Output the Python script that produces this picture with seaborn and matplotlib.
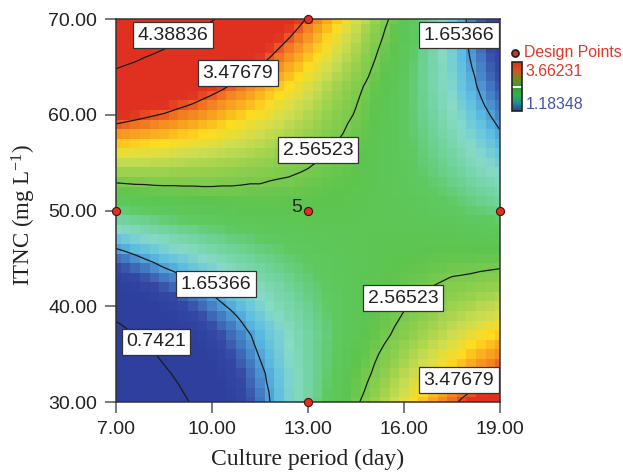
#!/usr/bin/env python3

import numpy as np
import matplotlib
matplotlib.use('Agg')
import matplotlib.pyplot as plt
import seaborn as sns
from matplotlib.colors import LinearSegmentedColormap
from matplotlib.colorbar import ColorbarBase

# Axis values
culture_ticks = ['7.00', '10.00', '13.00', '16.00', '19.00']
itnc_ticks = ['70.00', '60.00', '50.00', '40.00', '30.00']
culture_range = [7.0, 19.0]
itnc_range = [70.0, 30.0]

# Design points
design_culture = [7, 13, 13, 13, 19]
design_itnc = [50, 70, 50, 30, 50]

contour_levels = [0.7421, 1.65366, 2.56523, 3.47679, 4.38836]
contour_names = ['4.38836', '3.47679', '2.56523', '1.65366', '1.65366', '0.7421', '2.56523', '3.47679']
name_x = [173, 238, 318, 459, 216, 156, 403, 459]
name_y = [35, 73, 150, 35, 284, 342, 298, 380]

range_low = 1.18348
range_high = 3.66231

# Response, rows from ITNC 70 down to 30, columns from day 7 to 19
response = [
    [5.27,5.19,5.11,5.03,4.94,4.85,4.77,4.68,4.59,4.50,4.42,4.32,4.22,4.14,4.04,3.94,3.85,3.75,3.65,3.55,3.45,3.35,3.25,3.15,3.04,2.93,2.83,2.72,2.61,2.50,2.40,2.28,2.16,2.06,1.94,1.82,1.71,1.59,1.47,1.35,1.23],
    [5.10,5.02,4.94,4.86,4.78,4.71,4.62,4.54,4.45,4.37,4.28,4.19,4.11,4.02,3.93,3.84,3.75,3.66,3.56,3.47,3.37,3.27,3.18,3.08,2.98,2.88,2.77,2.67,2.57,2.46,2.36,2.26,2.15,2.04,1.93,1.83,1.71,1.60,1.49,1.37,1.26],
    [4.92,4.86,4.78,4.71,4.64,4.56,4.49,4.40,4.33,4.25,4.16,4.09,4.00,3.91,3.83,3.75,3.66,3.57,3.48,3.39,3.30,3.21,3.12,3.02,2.93,2.84,2.73,2.64,2.54,2.45,2.34,2.24,2.14,2.04,1.94,1.83,1.72,1.61,1.50,1.40,1.29],
    [4.75,4.68,4.62,4.54,4.48,4.41,4.34,4.26,4.19,4.11,4.04,3.96,3.88,3.80,3.73,3.65,3.56,3.48,3.39,3.31,3.23,3.14,3.05,2.96,2.88,2.79,2.70,2.60,2.51,2.41,2.32,2.22,2.12,2.03,1.93,1.83,1.73,1.62,1.52,1.41,1.31],
    [4.59,4.52,4.46,4.39,4.33,4.27,4.20,4.13,4.07,3.99,3.92,3.85,3.77,3.71,3.63,3.56,3.48,3.40,3.32,3.24,3.16,3.08,3.00,2.91,2.83,2.75,2.66,2.57,2.48,2.39,2.30,2.21,2.12,2.02,1.93,1.84,1.73,1.64,1.55,1.44,1.35],
    [4.42,4.36,4.31,4.25,4.18,4.12,4.07,4.00,3.94,3.87,3.81,3.74,3.68,3.61,3.54,3.47,3.39,3.32,3.24,3.17,3.10,3.02,2.94,2.86,2.78,2.71,2.62,2.54,2.46,2.37,2.29,2.20,2.11,2.03,1.94,1.84,1.75,1.66,1.57,1.47,1.38],
    [4.26,4.20,4.15,4.10,4.05,3.99,3.93,3.87,3.81,3.75,3.70,3.63,3.57,3.51,3.44,3.38,3.31,3.24,3.17,3.10,3.03,2.96,2.89,2.81,2.74,2.67,2.59,2.51,2.43,2.36,2.28,2.19,2.11,2.02,1.94,1.86,1.77,1.69,1.59,1.50,1.42],
    [4.09,4.04,3.99,3.95,3.90,3.85,3.79,3.74,3.68,3.63,3.57,3.52,3.46,3.40,3.34,3.28,3.21,3.15,3.09,3.02,2.96,2.89,2.82,2.75,2.69,2.62,2.55,2.47,2.40,2.33,2.25,2.18,2.10,2.02,1.94,1.87,1.78,1.70,1.62,1.54,1.45],
    [3.93,3.89,3.85,3.80,3.76,3.72,3.67,3.62,3.57,3.52,3.47,3.42,3.36,3.31,3.26,3.20,3.14,3.09,3.03,2.97,2.91,2.85,2.78,2.72,2.66,2.59,2.53,2.46,2.39,2.32,2.25,2.18,2.11,2.03,1.96,1.89,1.81,1.73,1.65,1.57,1.49],
    [3.78,3.74,3.70,3.66,3.62,3.59,3.54,3.50,3.46,3.41,3.37,3.32,3.27,3.23,3.18,3.13,3.07,3.02,2.97,2.91,2.86,2.80,2.74,2.68,2.63,2.57,2.50,2.44,2.38,2.31,2.25,2.18,2.11,2.04,1.97,1.91,1.83,1.76,1.68,1.61,1.54],
    [3.62,3.59,3.56,3.52,3.49,3.46,3.42,3.38,3.35,3.31,3.27,3.23,3.18,3.14,3.10,3.06,3.01,2.96,2.91,2.86,2.81,2.76,2.70,2.65,2.60,2.55,2.49,2.43,2.37,2.31,2.25,2.19,2.12,2.06,1.99,1.93,1.86,1.79,1.72,1.65,1.58],
    [3.47,3.44,3.41,3.39,3.36,3.33,3.30,3.27,3.24,3.20,3.17,3.13,3.09,3.06,3.02,2.98,2.94,2.90,2.85,2.81,2.77,2.72,2.67,2.62,2.57,2.52,2.47,2.41,2.36,2.31,2.25,2.19,2.13,2.07,2.01,1.95,1.89,1.82,1.76,1.69,1.63],
    [3.31,3.29,3.27,3.25,3.23,3.21,3.18,3.15,3.13,3.10,3.07,3.04,3.01,2.98,2.94,2.91,2.87,2.84,2.80,2.76,2.72,2.68,2.63,2.59,2.55,2.50,2.45,2.40,2.35,2.30,2.25,2.20,2.14,2.09,2.03,1.98,1.92,1.86,1.80,1.74,1.67],
    [3.16,3.15,3.13,3.12,3.10,3.09,3.06,3.04,3.02,3.00,2.98,2.95,2.92,2.90,2.87,2.84,2.81,2.78,2.74,2.71,2.68,2.64,2.60,2.56,2.52,2.48,2.44,2.39,2.35,2.30,2.26,2.21,2.16,2.11,2.06,2.01,1.95,1.89,1.84,1.78,1.72],
    [3.02,3.01,3.00,2.99,2.98,2.97,2.95,2.93,2.92,2.90,2.88,2.86,2.84,2.82,2.80,2.77,2.75,2.72,2.69,2.66,2.63,2.60,2.56,2.53,2.50,2.46,2.42,2.38,2.34,2.30,2.26,2.22,2.17,2.13,2.08,2.04,1.98,1.93,1.88,1.83,1.78],
    [2.87,2.87,2.86,2.86,2.85,2.85,2.83,2.82,2.81,2.80,2.79,2.77,2.76,2.74,2.72,2.71,2.69,2.66,2.64,2.62,2.59,2.56,2.53,2.51,2.48,2.45,2.41,2.38,2.34,2.31,2.27,2.23,2.19,2.15,2.11,2.07,2.02,1.97,1.92,1.88,1.83],
    [2.73,2.73,2.73,2.73,2.73,2.73,2.72,2.71,2.71,2.70,2.70,2.69,2.68,2.66,2.65,2.64,2.62,2.60,2.59,2.57,2.55,2.53,2.50,2.48,2.45,2.43,2.40,2.37,2.34,2.31,2.28,2.24,2.21,2.17,2.13,2.10,2.06,2.01,1.97,1.93,1.89],
    [2.58,2.59,2.60,2.60,2.61,2.61,2.61,2.61,2.61,2.61,2.61,2.60,2.60,2.59,2.58,2.58,2.56,2.55,2.54,2.52,2.51,2.49,2.47,2.45,2.44,2.42,2.39,2.37,2.34,2.32,2.29,2.26,2.23,2.20,2.17,2.13,2.10,2.06,2.02,1.98,1.94],
    [2.45,2.46,2.47,2.48,2.49,2.50,2.50,2.51,2.51,2.52,2.52,2.52,2.52,2.52,2.51,2.51,2.50,2.49,2.49,2.48,2.47,2.46,2.44,2.43,2.42,2.40,2.38,2.36,2.34,2.32,2.30,2.27,2.25,2.22,2.20,2.17,2.14,2.10,2.07,2.04,2.01],
    [2.31,2.32,2.34,2.35,2.37,2.39,2.39,2.40,2.41,2.42,2.43,2.44,2.44,2.45,2.45,2.45,2.45,2.45,2.44,2.44,2.44,2.43,2.42,2.41,2.40,2.39,2.37,2.36,2.34,2.33,2.31,2.29,2.27,2.25,2.23,2.21,2.18,2.15,2.12,2.09,2.07],
    [2.17,2.19,2.21,2.23,2.25,2.27,2.29,2.30,2.32,2.33,2.35,2.36,2.36,2.37,2.38,2.39,2.39,2.40,2.40,2.40,2.40,2.40,2.39,2.39,2.38,2.38,2.37,2.36,2.35,2.34,2.33,2.31,2.29,2.28,2.26,2.24,2.22,2.20,2.18,2.15,2.13],
    [2.04,2.06,2.09,2.11,2.14,2.17,2.19,2.21,2.22,2.24,2.26,2.28,2.29,2.30,2.32,2.33,2.34,2.35,2.35,2.36,2.37,2.37,2.37,2.37,2.37,2.37,2.36,2.36,2.35,2.35,2.34,2.33,2.32,2.31,2.30,2.29,2.27,2.25,2.23,2.22,2.20],
    [1.91,1.94,1.97,2.00,2.03,2.06,2.08,2.11,2.13,2.16,2.18,2.20,2.22,2.24,2.26,2.27,2.29,2.30,2.31,2.32,2.33,2.34,2.34,2.35,2.36,2.36,2.36,2.36,2.36,2.36,2.36,2.35,2.35,2.34,2.34,2.33,2.32,2.30,2.29,2.28,2.27],
    [1.77,1.81,1.85,1.88,1.92,1.95,1.98,2.01,2.04,2.07,2.10,2.12,2.15,2.17,2.19,2.22,2.23,2.25,2.27,2.28,2.30,2.31,2.32,2.33,2.34,2.36,2.36,2.37,2.37,2.38,2.38,2.38,2.38,2.38,2.37,2.37,2.36,2.36,2.35,2.34,2.33],
    [1.65,1.69,1.73,1.77,1.81,1.85,1.88,1.92,1.95,1.99,2.02,2.05,2.08,2.10,2.13,2.16,2.18,2.20,2.23,2.25,2.27,2.29,2.30,2.32,2.33,2.35,2.36,2.37,2.38,2.39,2.40,2.40,2.41,2.41,2.42,2.42,2.42,2.41,2.41,2.41,2.41],
    [1.52,1.56,1.61,1.66,1.70,1.75,1.78,1.82,1.86,1.90,1.94,1.97,2.01,2.04,2.07,2.11,2.13,2.16,2.19,2.21,2.24,2.26,2.28,2.30,2.32,2.35,2.36,2.38,2.39,2.41,2.42,2.43,2.44,2.45,2.46,2.47,2.47,2.47,2.48,2.48,2.48],
    [1.40,1.45,1.50,1.55,1.60,1.65,1.69,1.73,1.78,1.82,1.86,1.90,1.94,1.98,2.02,2.05,2.09,2.12,2.15,2.18,2.21,2.24,2.27,2.29,2.32,2.34,2.36,2.38,2.40,2.42,2.44,2.46,2.47,2.49,2.50,2.52,2.52,2.53,2.54,2.55,2.56],
    [1.27,1.33,1.38,1.44,1.49,1.55,1.59,1.64,1.69,1.74,1.79,1.83,1.87,1.92,1.96,2.00,2.04,2.07,2.11,2.15,2.19,2.22,2.25,2.28,2.31,2.34,2.37,2.39,2.42,2.44,2.47,2.49,2.51,2.53,2.55,2.57,2.58,2.59,2.61,2.62,2.63],
    [1.15,1.21,1.27,1.33,1.39,1.45,1.50,1.55,1.61,1.66,1.71,1.76,1.81,1.86,1.90,1.95,1.99,2.03,2.08,2.12,2.16,2.20,2.23,2.27,2.30,2.34,2.37,2.40,2.43,2.46,2.49,2.52,2.54,2.57,2.59,2.62,2.64,2.66,2.68,2.70,2.71],
    [1.04,1.10,1.16,1.23,1.29,1.35,1.41,1.47,1.53,1.58,1.64,1.69,1.75,1.80,1.85,1.90,1.95,2.00,2.04,2.09,2.14,2.18,2.22,2.26,2.30,2.34,2.38,2.41,2.45,2.49,2.52,2.55,2.58,2.61,2.64,2.67,2.70,2.72,2.75,2.77,2.80],
    [0.92,0.99,1.06,1.12,1.19,1.26,1.32,1.38,1.45,1.51,1.57,1.63,1.68,1.74,1.80,1.86,1.91,1.96,2.01,2.06,2.11,2.16,2.21,2.25,2.30,2.35,2.39,2.43,2.47,2.51,2.55,2.59,2.62,2.66,2.69,2.73,2.76,2.79,2.82,2.85,2.88],
    [0.81,0.88,0.95,1.02,1.09,1.17,1.23,1.30,1.37,1.43,1.50,1.56,1.62,1.68,1.75,1.81,1.87,1.92,1.98,2.03,2.09,2.14,2.20,2.25,2.30,2.35,2.39,2.44,2.49,2.53,2.58,2.62,2.66,2.70,2.75,2.79,2.82,2.86,2.89,2.93,2.97],
    [0.69,0.77,0.85,0.92,1.00,1.08,1.15,1.22,1.29,1.36,1.43,1.50,1.56,1.63,1.70,1.76,1.82,1.88,1.95,2.01,2.07,2.13,2.18,2.24,2.30,2.35,2.40,2.46,2.51,2.56,2.61,2.66,2.71,2.75,2.80,2.85,2.89,2.93,2.97,3.01,3.05],
    [0.58,0.66,0.75,0.83,0.91,0.99,1.06,1.14,1.21,1.29,1.36,1.43,1.51,1.58,1.65,1.72,1.79,1.85,1.92,1.98,2.05,2.11,2.17,2.24,2.30,2.36,2.42,2.47,2.53,2.59,2.64,2.70,2.75,2.80,2.85,2.91,2.95,3.00,3.05,3.10,3.14],
    [0.48,0.56,0.65,0.74,0.83,0.91,0.99,1.07,1.15,1.23,1.32,1.40,1.47,1.55,1.62,1.70,1.77,1.84,1.91,1.98,2.05,2.12,2.19,2.25,2.32,2.39,2.45,2.51,2.57,2.64,2.70,2.75,2.80,2.86,2.92,2.98,3.03,3.09,3.13,3.18,3.24],
    [0.37,0.46,0.56,0.65,0.73,0.82,0.92,1.00,1.09,1.17,1.25,1.33,1.42,1.50,1.59,1.67,1.74,1.82,1.89,1.97,2.05,2.12,2.19,2.26,2.33,2.41,2.47,2.54,2.61,2.67,2.73,2.80,2.86,2.93,2.99,3.04,3.10,3.16,3.22,3.27,3.33],
    [0.27,0.36,0.46,0.55,0.65,0.75,0.84,0.93,1.03,1.11,1.20,1.29,1.37,1.47,1.55,1.64,1.72,1.80,1.88,1.96,2.04,2.12,2.19,2.27,2.35,2.43,2.50,2.57,2.63,2.71,2.78,2.85,2.92,2.98,3.05,3.12,3.17,3.24,3.31,3.36,3.43],
    [0.16,0.26,0.37,0.46,0.57,0.67,0.77,0.86,0.95,1.05,1.15,1.24,1.33,1.42,1.52,1.61,1.69,1.78,1.86,1.95,2.04,2.12,2.20,2.29,2.37,2.45,2.53,2.59,2.67,2.75,2.83,2.90,2.97,3.05,3.12,3.19,3.26,3.32,3.39,3.45,3.52],
    [0.07,0.18,0.28,0.39,0.50,0.60,0.70,0.80,0.91,1.00,1.10,1.20,1.30,1.39,1.49,1.59,1.68,1.77,1.86,1.95,2.04,2.13,2.21,2.30,2.39,2.48,2.55,2.64,2.72,2.81,2.88,2.96,3.04,3.11,3.20,3.27,3.34,3.41,3.48,3.56,3.63],
    [-0.03,0.08,0.19,0.30,0.41,0.53,0.63,0.74,0.84,0.95,1.05,1.15,1.26,1.36,1.46,1.56,1.66,1.75,1.85,1.95,2.04,2.13,2.23,2.32,2.41,2.50,2.58,2.67,2.76,2.84,2.93,3.02,3.10,3.18,3.26,3.35,3.42,3.49,3.58,3.65,3.73],
    [-0.13,-0.01,0.11,0.22,0.34,0.45,0.56,0.68,0.78,0.90,1.02,1.12,1.22,1.34,1.44,1.54,1.65,1.75,1.85,1.95,2.05,2.15,2.25,2.34,2.44,2.53,2.62,2.72,2.80,2.90,3.00,3.08,3.16,3.25,3.34,3.42,3.51,3.59,3.67,3.75,3.83],
]


def main():
    sns.set_style('ticks')
    plt.rcParams['font.family'] = ['Liberation Sans', 'DejaVu Sans']
    plt.rcParams['mathtext.default'] = 'regular'

    W, H = 623, 473
    fig = plt.figure(figsize=(W / 100, H / 100), dpi=100)
    ax = fig.add_axes([116 / W, 1 - 402 / H, 384 / W, 383 / H])

    colors = [(0.0, '#2E3F9E'), (0.09, '#3548A4'), (0.17, '#4A8FCE'), (0.22, '#5CBDE3'),
              (0.29, '#88DAC8'), (0.36, '#6FD29A'), (0.42, '#5FC962'), (0.50, '#5DC44E'),
              (0.60, '#8CCE4E'), (0.70, '#CFDD50'), (0.77, '#FFDC1E'), (0.88, '#F58322'),
              (0.97, '#E03222'), (1.0, '#E03020')]
    surface_cmap = LinearSegmentedColormap.from_list('surface', colors)

    grid = np.array(response)
    sns.heatmap(grid, ax=ax, cmap=surface_cmap, vmin=range_low, vmax=range_high,
                cbar=False, xticklabels=False, yticklabels=False, rasterized=True)

    # node i sits at the middle of cell i
    nodes = np.arange(grid.shape[1]) + 0.5
    ax.contour(nodes, nodes, grid, levels=contour_levels, colors='#1a1a1a', linewidths=0.9)

    ax.set_xlim(0.5, 40.5)
    ax.set_ylim(40.5, 0.5)

    to_col = lambda d: (d - culture_range[0]) / (culture_range[1] - culture_range[0]) * 40 + 0.5
    to_row = lambda c: (c - itnc_range[0]) / (itnc_range[1] - itnc_range[0]) * 40 + 0.5

    ax.scatter([to_col(d) for d in design_culture], [to_row(c) for c in design_itnc],
               s=34, color='#E03020', edgecolors='#4a1010', linewidths=0.8,
               clip_on=False, zorder=6)
    ax.text(to_col(13) - 0.65, to_row(50) - 0.3, '5', ha='right', va='center', fontsize=14,
            color='#222222', zorder=6)

    ax.set_xticks(np.arange(5) * 10 + 0.5)
    ax.set_yticks(np.arange(5) * 10 + 0.5)
    ax.set_xticklabels(culture_ticks)
    ax.set_yticklabels(itnc_ticks, rotation=0)
    ax.tick_params(length=8, width=1.1, color='#555555', labelsize=14,
                   labelcolor='#222222', pad=5.5)

    for side in ax.spines.values():
        side.set_visible(True)
        side.set_color('#333333')
        side.set_linewidth(1.1)

    ax.set_xlabel('Culture period (day)', family='Liberation Serif', fontsize=17,
                  color='#222222', va='center')
    ax.xaxis.set_label_coords(0.5, -(459 - 402) / 383)
    ax.set_ylabel('ITNC (mg L$^{-1}$)', family='Liberation Serif', fontsize=16.5,
                  color='#222222', va='center')
    ax.yaxis.set_label_coords(-(116 - 24) / 384, (402 - 215) / 383)

    for name, px, py in zip(contour_names, name_x, name_y):
        fig.text(px / W, 1 - py / H, name, ha='center', va='center', fontsize=14,
                 color='#222222', zorder=5,
                 bbox=dict(boxstyle='square,pad=0.22', facecolor='white',
                           edgecolor='#333333', linewidth=0.9))

    # Legend on the right
    cax = fig.add_axes([511.5 / W, 1 - 111 / H, 10 / W, 49 / H])
    bar_cmap = LinearSegmentedColormap.from_list(
        'bar', ['#2E3F9E', '#1E8F8A', '#2FB34A', '#3A9A35', '#7A8A1E', '#D8521E', '#D8301E'])
    ColorbarBase(cax, cmap=bar_cmap, orientation='vertical', ticks=[])
    cax.axhline(0.49, color='white', linewidth=1.4)
    for side in cax.spines.values():
        side.set_color('#222222')
        side.set_linewidth(1.2)

    fig.add_artist(plt.Line2D([515 / W], [1 - 53 / H], marker='o', markersize=5,
                              markerfacecolor='#E03020', markeredgecolor='#222222',
                              markeredgewidth=1.3, linestyle='none'))
    fig.text(524 / W, 1 - 52.5 / H, 'Design Points', fontsize=11.4, color='#E0382B', va='center')
    fig.text(525 / W, 1 - 72 / H, f'{range_high:.5f}', fontsize=11.4, color='#E0382B', va='center')
    fig.text(526 / W, 1 - 104.5 / H, f'{range_low:.5f}', fontsize=11.4, color='#4455AA', va='center')

    fig.savefig('out.png', dpi=100)


if __name__ == "__main__":
    main()
